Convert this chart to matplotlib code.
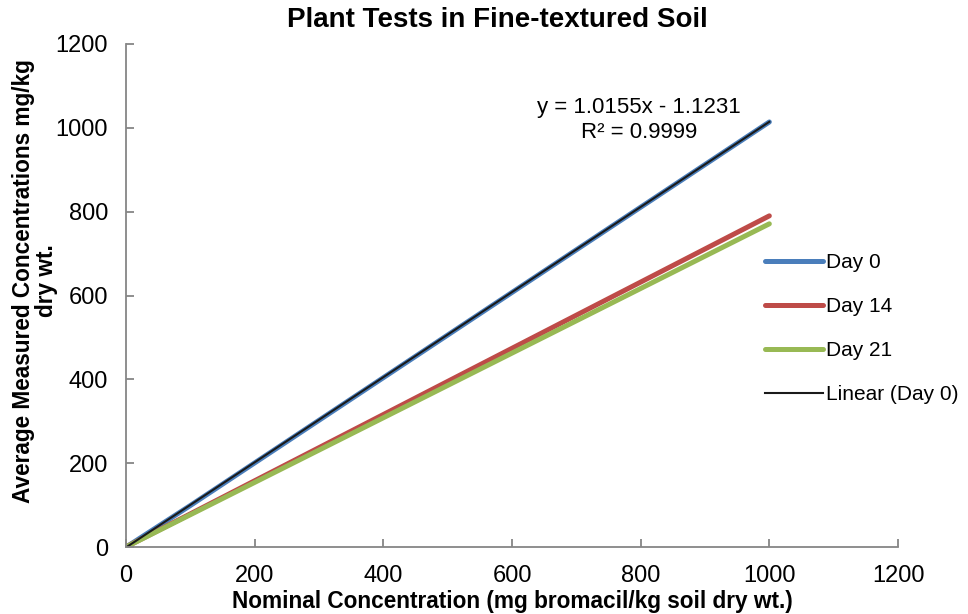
import matplotlib
matplotlib.use("Agg")
import matplotlib.pyplot as plt
import numpy as np

plt.rcParams['font.family'] = ['Liberation Sans', 'DejaVu Sans']

nominal = [0, 10, 100, 1000]
day0 = [0, 9.5, 99, 1014]
day14 = [0, 8.0, 79, 790]
day21 = [0, 7.7, 77, 771]
trend_slope = 1.0155
trend_intercept = -1.1231
trend_x = [0, 1000]
xticks = [0, 200, 400, 600, 800, 1000, 1200]
yticks = [0, 200, 400, 600, 800, 1000, 1200]

fig = plt.figure(figsize=(9.68, 6.14), dpi=100)
ax = fig.add_axes([126/968, 1-547/614, (898-126)/968, (547-44)/614])

ax.plot(nominal, day0, color='#4A7EBB', lw=3.6, label='Day 0', solid_capstyle='round')
ax.plot(nominal, day14, color='#BE4B48', lw=3.6, label='Day 14', solid_capstyle='round')
ax.plot(nominal, day21, color='#98B954', lw=3.6, label='Day 21', solid_capstyle='round')
tx = np.array(trend_x, dtype=float)
ax.plot(tx, trend_slope*tx + trend_intercept, color='#1a1a1a', lw=1.5, label='Linear (Day 0)')

ax.set_xlim(0, 1200)
ax.set_ylim(0, 1200)
ax.set_xticks(xticks)
ax.set_yticks(yticks)
for s in ['top', 'right']:
    ax.spines[s].set_visible(False)
for s in ['left', 'bottom']:
    ax.spines[s].set_color('#868686')
    ax.spines[s].set_linewidth(1.3)
ax.tick_params(direction='in', length=6, width=1.3, color='#868686', labelsize=17)
ax.tick_params(axis='x', pad=13)
ax.tick_params(axis='y', pad=13)

ax.set_xlabel('Nominal Concentration (mg bromacil/kg soil dry wt.)', fontsize=16.3, fontweight='bold', labelpad=2)
ax.set_ylabel('Average Measured Concentrations mg/kg\ndry wt.', fontsize=16.3, fontweight='bold', labelpad=-1.5, linespacing=0.95)
ax.yaxis.label.set_y((547-281)/503)

fig.text(497/968, 1-20/614, 'Plant Tests in Fine-textured Soil', ha='center', va='center', fontsize=20, fontweight='bold')

fig.text(639/968, 1-107/614, 'y = 1.0155x - 1.1231', ha='center', va='center', fontsize=16)
fig.text(639/968, 1-133/614, 'R² = 0.9999', ha='center', va='center', fontsize=16)

leg = fig.legend(loc='center left', bbox_to_anchor=(746/968, 1-329/614), frameon=False,
                 fontsize=15, handlelength=2.8, handletextpad=0.15, labelspacing=1.2)

fig.savefig('out.png', dpi=100)
